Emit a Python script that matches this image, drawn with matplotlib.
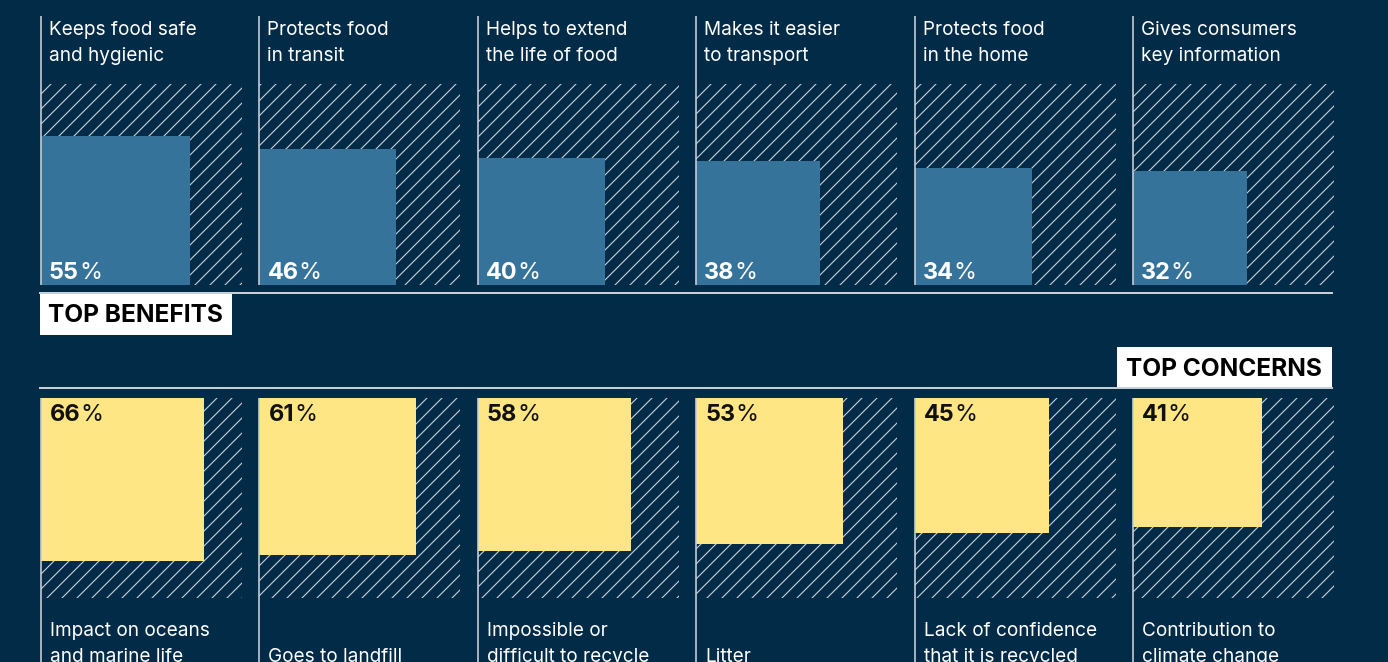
import numpy as np
import matplotlib.pyplot as plt
from matplotlib.patches import Rectangle

plt.rcParams['font.family'] = ['Inter', 'DejaVu Sans']
plt.rcParams['hatch.linewidth'] = 0.9

# survey results
benefits = ["Keeps food safe\nand hygienic", "Protects food\nin transit",
            "Helps to extend\nthe life of food", "Makes it easier\nto transport",
            "Protects food\nin the home", "Gives consumers\nkey information"]
benefit_pct = [55, 46, 40, 38, 34, 32]

concerns = ["Impact on oceans\nand marine life", "Goes to landfill",
            "Impossible or\ndifficult to recycle", "Litter",
            "Lack of confidence\nthat it is recycled", "Contribution to\nclimate change"]
concern_pct = [66, 61, 58, 53, 45, 41]

navy = '#022b47'
blue = '#36739a'
yellow = '#ffe685'
rule = '#c6cfd7'

DPI = 90
W, H = 1388, 662


def pt(px):
    return px * 72 / DPI


fig = plt.figure(figsize=(W / DPI, H / DPI), dpi=DPI, facecolor=navy)
ax = fig.add_axes([0, 0, 1, 1])
ax.set_facecolor(navy)
ax.set_xlim(0, W)
ax.set_ylim(H, 0)
ax.axis('off')

x0, step, box = 41, 218.4, 201
top_y0, top_y1 = 84, 285
bot_y0, bot_y1 = 398, 598


def pct_label(x, y, v, color):
    t = ax.text(x, y, str(v), color=color, fontsize=pt(23.5), fontweight='bold',
                ha='left', va='baseline')
    ax.annotate('%', xy=(1, 0), xycoords=t, color=color, fontsize=pt(23.5),
                fontweight='normal', ha='left', va='bottom')


# top row: benefits, squares grow up from the baseline
for i, (lab, v) in enumerate(zip(benefits, benefit_pct)):
    x = x0 + i * step
    ax.add_patch(Rectangle((x, top_y0), box, top_y1 - top_y0, facecolor='none',
                           edgecolor=rule, hatch='//', lw=0))
    side = box * np.sqrt(v / 100)
    ax.add_patch(Rectangle((x, top_y1 - side), side, side, facecolor=blue, lw=0))
    ax.plot([x, x], [16, top_y1], color=rule, lw=1.3, solid_capstyle='butt')
    ax.text(x + 8, 21, lab, color='white', fontsize=pt(19), ha='left', va='top',
            linespacing=1.55)
    pct_label(x + 8, 279, v, 'white')

# bottom row: concerns, squares hang from the top
for i, (lab, v) in enumerate(zip(concerns, concern_pct)):
    x = x0 + i * step
    ax.add_patch(Rectangle((x, bot_y0), box, bot_y1 - bot_y0, facecolor='none',
                           edgecolor=rule, hatch='//', lw=0))
    side = box * np.sqrt(v / 100)
    ax.add_patch(Rectangle((x, bot_y0), side, side, facecolor=yellow, lw=0))
    ax.plot([x, x], [bot_y0, H], color=rule, lw=1.3, solid_capstyle='butt')
    ax.text(x + 9, 666, lab, color='white', fontsize=pt(19), ha='left',
            va='bottom', linespacing=1.55)
    pct_label(x + 9, 421, v, '#111111')

# section rules and headers
ax.plot([40, 1332], [293, 293], color=rule, lw=1.6)
ax.plot([40, 1332], [388, 388], color=rule, lw=1.6)

ax.add_patch(Rectangle((40, 293), 192, 42, facecolor='white', lw=0))
ax.text(48, 316, 'TOP BENEFITS', color='black', fontsize=pt(24.5),
        fontweight='bold', ha='left', va='center')

ax.add_patch(Rectangle((1117, 347), 215, 42, facecolor='white', lw=0))
ax.text(1224, 370, 'TOP CONCERNS', color='black', fontsize=pt(24.5),
        fontweight='bold', ha='center', va='center')

fig.savefig('out.png', dpi=DPI, facecolor=navy)
